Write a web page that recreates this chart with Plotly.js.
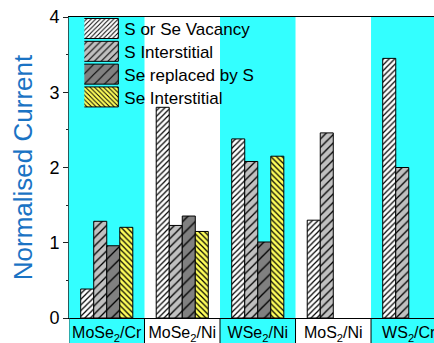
<!DOCTYPE html>
<html>
<head>
<meta charset="utf-8">
<script src="https://cdn.plot.ly/plotly-3.0.1.min.js"></script>
<style>html,body{margin:0;padding:0;background:#fff;overflow:hidden}</style>
</head>
<body>
<div id="chart" style="width:434px;height:343px"></div>
<script>
// ---- data ----
var categories = ['MoSe<sub>2</sub>/Cr', 'MoSe<sub>2</sub>/Ni', 'WSe<sub>2</sub>/Ni', 'MoS<sub>2</sub>/Ni', 'WS<sub>2</sub>/Cr'];
var seriesNames = ['S or Se Vacancy', 'S Interstitial', 'Se replaced by S', 'Se Interstitial'];
var vacancy      = [0.385, 2.80, 2.38, 1.30, 3.45];
var sInterstit   = [1.285, 1.23, 2.08, 2.46, 2.00];
var seReplaced   = [0.96, 1.355, 1.01, null, null];
var seInterstit  = [1.205, 1.15, 2.15, null, null];
var yTicks = [0, 1, 2, 3, 4];

// ---- styles ----
var styles = [
  {bg: '#ffffff', shape: '/', size: 4, sol: 0.3},
  {bg: '#c0c0c0', shape: '/', size: 6, sol: 0.22},
  {bg: '#808080', shape: '/', size: 9, sol: 0.15},
  {bg: '#ffff5a', shape: '\\', size: 4, sol: 0.3}
];
var seriesVals = [vacancy, sInterstit, seReplaced, seInterstit];
var FONT = '"Liberation Sans", Arial, sans-serif';
var bargap = 0.31;
var nSeries = seriesVals.length;
var barW = (1 - bargap) / nSeries;

var traces = seriesVals.map(function (vals, i) {
  var s = styles[i];
  return {
    type: 'bar', name: seriesNames[i], x: categories, y: vals,
    marker: {color: s.bg, line: {color: '#000', width: 1},
      pattern: {shape: s.shape, fgcolor: '#000', bgcolor: s.bg, fillmode: 'replace',
        size: s.size, solidity: s.sol}},
    hoverinfo: 'skip'
  };
});

var xr = [-0.5, 4.334];
var bandShapes = [];
var cyan = '#33ffff';
var bottomY = -25 / 301;
categories.forEach(function (c, i) {
  if (i % 2 === 0) {
    bandShapes.push({type: 'rect', xref: 'x', yref: 'paper', x0: i - 0.5, x1: i + 0.5,
      y0: bottomY, y1: 1, fillcolor: cyan, line: {width: 0}, layer: 'below'});
  }
  if (i > 0) {
    bandShapes.push({type: 'line', xref: 'x', yref: 'paper', x0: i - 0.5, x1: i - 0.5,
      y0: bottomY, y1: 0, line: {color: '#000', width: 1}, layer: 'above'});
  }
});
bandShapes.push({type: 'line', xref: 'x', yref: 'paper', x0: -0.5, x1: -0.5,
  y0: bottomY, y1: 0, line: {color: '#285a5a', width: 1}, layer: 'above'});

// top ticks at the inner bar boundaries
var topTicks = [];
categories.forEach(function (c, i) {
  [-1, 0, 1].forEach(function (k) { topTicks.push(i + k * barW); });
});

var layout = {
  width: 434, height: 343,
  margin: {l: 69, r: 0, t: 17, b: 25},
  paper_bgcolor: '#fff', plot_bgcolor: '#fff',
  font: {family: FONT, color: '#000', size: 16},
  barmode: 'group', bargap: bargap, bargroupgap: 0,
  showlegend: true,
  legend: {x: 0.042, y: 1.02, xanchor: 'left', yanchor: 'top', bgcolor: 'rgba(0,0,0,0)',
    borderwidth: 0, font: {size: 17, family: FONT}, itemwidth: 30, tracegroupgap: 0,
    itemclick: false, itemdoubleclick: false},
  xaxis: {type: 'category', range: xr, showline: true, linecolor: '#000', linewidth: 1,
    mirror: true, ticks: '', showgrid: false, zeroline: false,
    tickfont: {size: 16, family: FONT, color: '#000'}, fixedrange: true},
  xaxis2: {overlaying: 'x', anchor: 'y', side: 'top', range: xr, tickvals: topTicks,
    ticks: 'inside', ticklen: 3, tickcolor: '#000', showticklabels: false,
    showgrid: false, zeroline: false, showline: false, fixedrange: true},
  yaxis: {range: [0, 4], tickvals: yTicks, ticks: 'outside', ticklen: 5, tickcolor: '#222',
    showline: true, linecolor: '#285a5a', linewidth: 1, showgrid: false, zeroline: false,
    tickfont: {size: 18, family: FONT, color: '#000'}, fixedrange: true,
    minor: {dtick: 0.5, ticks: 'outside', ticklen: 2, tickcolor: '#222', showgrid: false},
    title: {text: 'Normalised Current', font: {size: 26, family: FONT, color: '#1a73c4'}, standoff: 9}},
  shapes: bandShapes
};

var ROW_PITCH = 22.8;
function styleLegend() {
  document.querySelectorAll('#chart .legendpoints path').forEach(function (p) {
    p.setAttribute('d', 'M14,10H-27V-10H14Z');
  });
  var items = document.querySelectorAll('#chart .legend g.traces');
  var y0 = null;
  items.forEach(function (g, k) {
    var t = g.getAttribute('transform') || '';
    var m = /translate\(\s*([-\d.e]+)[ ,]+([-\d.e]+)\s*\)/.exec(t);
    if (!m) return;
    var x = parseFloat(m[1]), y = parseFloat(m[2]);
    if (g.__y0 === undefined) g.__y0 = y;
    if (y0 === null) y0 = g.__y0;
    g.setAttribute('transform', 'translate(' + x + ',' + (y0 + k * ROW_PITCH) + ')');
  });
}
var gd = document.getElementById('chart');
Plotly.newPlot(gd, traces, layout, {displayModeBar: false}).then(function () {
  styleLegend();
  gd.on('plotly_afterplot', styleLegend);
  setTimeout(styleLegend, 50);
  setTimeout(styleLegend, 300);
});
</script>
</body>
</html>
